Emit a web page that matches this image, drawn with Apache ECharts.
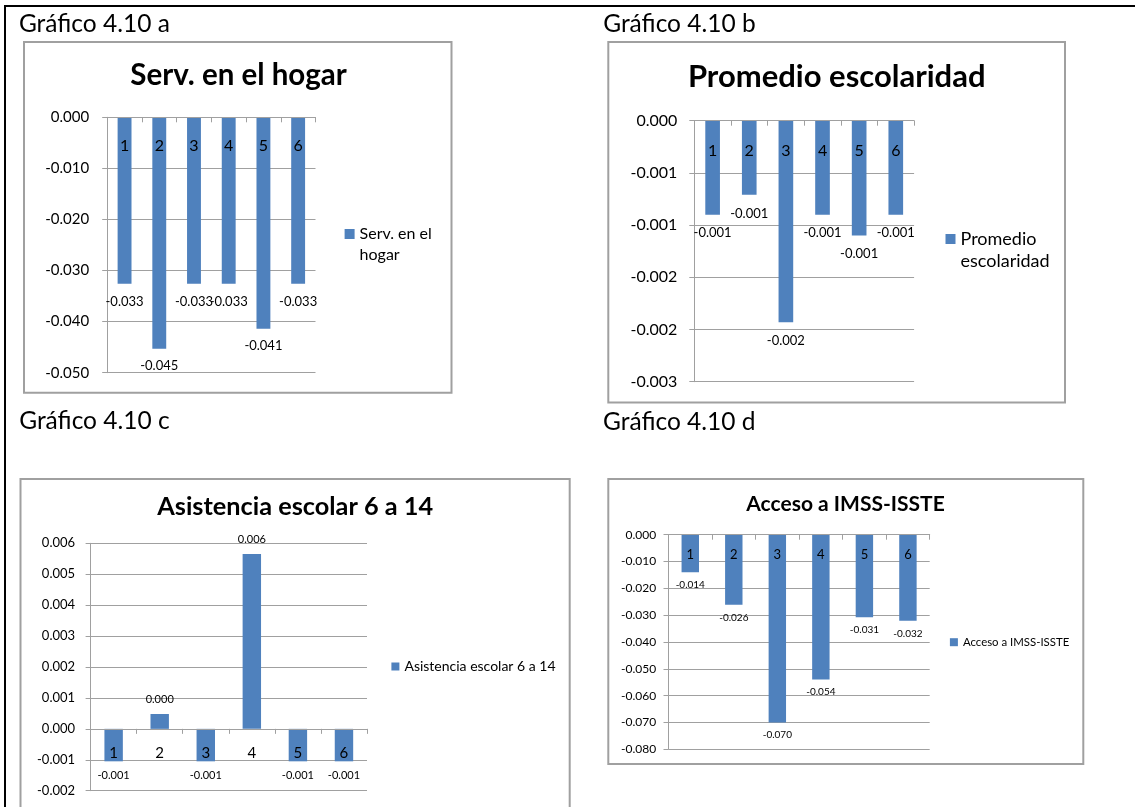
<!DOCTYPE html>
<html><head><meta charset="utf-8">
<script src="https://cdn.jsdelivr.net/npm/echarts@6/dist/echarts.min.js"></script>
<style>html,body{margin:0;padding:0;background:#fff}#c{width:1135px;height:807px}</style>
</head><body><div id="c"></div>
<script>
// ---- data ----
const categories = ['1', '2', '3', '4', '5', '6'];
const servHogar = [-0.0326, -0.0453, -0.0326, -0.0326, -0.0414, -0.0326];
const promEscolaridad = [-0.00090, -0.00071, -0.00193, -0.00090, -0.00110, -0.00090];
const asistencia = [-0.00105, 0.00048, -0.00105, 0.00565, -0.00105, -0.00105];
const accesoImss = [-0.0140, -0.0261, -0.0700, -0.0540, -0.0308, -0.0321];
const panelLabels = ['Gráfico 4.10 a', 'Gráfico 4.10 b', 'Gráfico 4.10 c', 'Gráfico 4.10 d'];
const chartTitles = ['Serv. en el hogar', 'Promedio escolaridad', 'Asistencia escolar 6 a 14', 'Acceso a IMSS-ISSTE'];
const legendLines = [['Serv. en el', 'hogar'], ['Promedio', 'escolaridad'], ['Asistencia escolar 6 a 14'], ['Acceso a IMSS-ISSTE']];
const yRanges = [[-0.05, 0, 0.01], [-0.0025, 0, 0.0005], [-0.002, 0.006, 0.001], [-0.08, 0, 0.01]];
const seriesValues = [servHogar, promEscolaridad, asistencia, accesoImss];

// ---- layout / style ----
const FONT = 'Lato';
const BAR = '#4F81BD';
const GRIDC = '#a0a0a0';
const layout = [
  { grid: { left: 107.2, top: 117.3, width: 208.3, height: 255.4 }, yFont: 15, yMargin: 18, xFont: 16, xMargin: 21, lblFont: 13, lblDist: 11,
    title: { x: 238.5, cy: 75.5, fs: 29.5 },
    legend: { left: 344.6, cy: 234, icon: 10, fs: 16, lh: 21 } },
  { grid: { left: 694.3, top: 120.7, width: 219.8, height: 261 }, yFont: 16, yMargin: 17, xFont: 16, xMargin: 22, lblFont: 13, lblDist: 12,
    title: { x: 836.7, cy: 77.2, fs: 31 },
    legend: { left: 945.5, cy: 239, icon: 10, fs: 18, lh: 22 } },
  { grid: { left: 90.6, top: 543.3, width: 276.4, height: 247.4 }, yFont: 13, yMargin: 15.5, xFont: 15, xMargin: 16.5, lblFont: 11, lblDist: 9,
    title: { x: 295.2, cy: 507.3, fs: 25.3 },
    legend: { left: 391.4, cy: 666.5, icon: 8, fs: 14, lh: 16 } },
  { grid: { left: 668.5, top: 534.7, width: 261.2, height: 214.6 }, yFont: 12, yMargin: 12.4, xFont: 13, xMargin: 14, lblFont: 10, lblDist: 7.7,
    title: { x: 845.5, cy: 503.8, fs: 21 },
    legend: { left: 949.9, cy: 642.2, icon: 8, fs: 11.4, lh: 14 } }
];
const panelLabelPos = [[18.9, 24.5], [603.2, 24.5], [19.2, 421.3], [603, 422]];
const boxes = [[24, 42, 451.5, 392.7], [608.3, 42, 1065, 402.5], [20.5, 479, 569.7, 830], [608.3, 479, 1083.3, 764]];

function fmt3(v) {
  const r = Math.round(Math.abs(v) * 1000 + 1e-6) / 1000;
  return (v < 0 && r !== 0 ? '-' : '') + r.toFixed(3);
}

const grids = [], xAxes = [], yAxes = [], series = [], titles = [], legends = [], graphics = [];

layout.forEach((L, i) => {
  grids.push(Object.assign({ containLabel: false, outerBoundsMode: 'none' }, L.grid));
  const r = yRanges[i];
  // category axis sits on the zero line of the value axis
  const zeroAtTop = r[1] === 0;
  const zeroOffset = -(0 - r[0]) / (r[1] - r[0]) * L.grid.height;
  xAxes.push({
    type: 'category', gridIndex: i, data: categories, z: 6,
    position: zeroAtTop ? 'top' : 'bottom',
    offset: zeroAtTop ? 0 : zeroOffset,
    axisLine: { show: true, onZero: false, lineStyle: { color: GRIDC, width: 1 } },
    axisTick: { show: true, length: 5, inside: zeroAtTop, lineStyle: { color: GRIDC } },
    axisLabel: { show: true, inside: zeroAtTop, margin: L.xMargin, fontSize: L.xFont, color: '#000', fontFamily: FONT },
    splitLine: { show: false }
  });
  yAxes.push({
    type: 'value', gridIndex: i, min: r[0], max: r[1], interval: r[2],
    axisLine: { show: true, lineStyle: { color: GRIDC, width: 1 } },
    axisTick: { show: true, length: 5, lineStyle: { color: GRIDC } },
    axisLabel: { margin: L.yMargin, fontSize: L.yFont, color: '#000', fontFamily: FONT, formatter: fmt3 },
    splitLine: { show: true, lineStyle: { color: GRIDC, width: 1 } }
  });
  series.push({
    type: 'bar', name: chartTitles[i], xAxisIndex: i, yAxisIndex: i, barWidth: '40%',
    itemStyle: { color: BAR },
    data: seriesValues[i].map(v => ({ value: v, label: { position: v >= 0 ? 'top' : 'bottom' } })),
    label: { show: true, distance: L.lblDist, fontSize: L.lblFont, color: '#000', fontFamily: FONT,
             formatter: p => fmt3(p.value) }
  });
  titles.push({
    text: chartTitles[i], left: L.title.x, top: L.title.cy - L.title.fs / 2, textAlign: 'center', padding: 0,
    textStyle: { fontSize: L.title.fs, lineHeight: L.title.fs, fontWeight: 'bold', color: '#000', fontFamily: FONT }
  });
  const lines = legendLines[i];
  const lg = L.legend;
  const multi = lines.length > 1;
  // multi-line legend: a leading blank line keeps the first line level with the marker
  const shown = multi ? [''].concat(lines) : lines;
  const boxH = lg.lh * shown.length;
  legends.push({
    show: true, data: [chartTitles[i]], left: lg.left, top: lg.cy - boxH / 2, padding: 0,
    orient: 'vertical', selectedMode: false, icon: 'rect', itemWidth: lg.icon, itemHeight: lg.icon,
    formatter: () => shown.join('\n'),
    textStyle: { fontSize: lg.fs, lineHeight: lg.lh, color: '#000', fontFamily: FONT }
  });
  const b = boxes[i];
  graphics.push({ type: 'rect', z: -10, shape: { x: b[0], y: b[1], width: b[2] - b[0], height: b[3] - b[1] },
                  style: { fill: 'none', stroke: '#a0a0a0', lineWidth: 2 } });
  graphics.push({ type: 'text', x: panelLabelPos[i][0], y: panelLabelPos[i][1],
                  style: { text: panelLabels[i], fontSize: 24.5, fontFamily: FONT, fill: '#000', verticalAlign: 'middle', align: 'left' } });
});

graphics.push({ type: 'line', shape: { x1: 4, y1: 6, x2: 1135, y2: 6 }, style: { stroke: '#000', lineWidth: 2 } });
graphics.push({ type: 'line', shape: { x1: 5, y1: 5, x2: 5, y2: 807 }, style: { stroke: '#000', lineWidth: 2 } });

const chart = echarts.init(document.getElementById('c'), null, { renderer: 'canvas' });
chart.setOption({
  backgroundColor: '#fff',
  animation: false,
  textStyle: { fontFamily: FONT },
  title: titles,
  legend: legends,
  grid: grids,
  xAxis: xAxes,
  yAxis: yAxes,
  series: series,
  graphic: graphics
});
</script></body></html>
